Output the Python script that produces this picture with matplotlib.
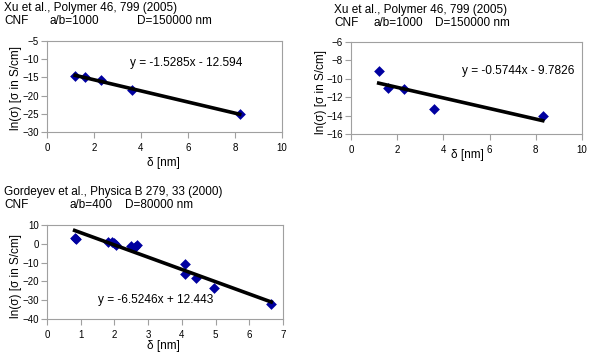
import matplotlib
matplotlib.use("Agg")
import matplotlib.pyplot as plt
import numpy as np

plt.rcParams['font.family'] = ['Liberation Sans', 'DejaVu Sans']

# Panel 1: Xu et al. (ln sigma vs delta)
x1 = [1.2, 1.6, 2.3, 3.6, 8.2]
y1 = [-14.6, -14.9, -15.8, -18.5, -25.0]
fit1 = (-1.5285, -12.594)
eq1 = "y = -1.5285x - 12.594"

# Panel 2: Xu et al. second set
x2 = [1.2, 1.6, 2.3, 3.6, 8.3]
y2 = [-9.2, -11.0, -11.1, -13.3, -14.0]
fit2 = (-0.5744, -9.7826)
eq2 = "y = -0.5744x - 9.7826"

# Panel 3: Gordeyev et al.
x3 = [0.82, 0.87, 1.8, 1.92, 2.0, 2.05, 2.5, 2.6, 2.68, 4.1, 4.1, 4.42, 4.95, 6.65]
y3 = [3.3, 2.8, 0.8, 1.2, 0.2, -0.5, -1.0, -1.8, -0.6, -10.5, -16.2, -18.0, -23.5, -32.0]
fit3 = (-6.5246, 12.443)
eq3 = "y = -6.5246x + 12.443"

titles = [
    ("Xu et al., Polymer 46, 799 (2005)", "CNF", "a/b=1000", "D=150000 nm"),
    ("Xu et al., Polymer 46, 799 (2005)", "CNF", "a/b=1000", "D=150000 nm"),
    ("Gordeyev et al., Physica B 279, 33 (2000)", "CNF", "a/b=400", "D=80000 nm"),
]

W, H = 604, 364
fig = plt.figure(figsize=(W/100, H/100), dpi=100)

def box(l, t, r, b):
    return [l/W, 1-b/H, (r-l)/W, (b-t)/H]

panels = [
    dict(rect=box(47, 41, 282, 132), x=x1, y=y1, fit=fit1, eq=eq1,
         xlim=(0, 10), xt=[0, 2, 4, 6, 8, 10], ylim=(-30, -5), yt=[-30, -25, -20, -15, -10, -5],
         eqpos=(130, 63), tpos=(4, 8, 4, 49, 137), ylab=(16, 88), xlab=(163, 163)),
    dict(rect=box(351, 42, 582, 134), x=x2, y=y2, fit=fit2, eq=eq2,
         xlim=(0, 10), xt=[0, 2, 4, 6, 8, 10], ylim=(-16, -6), yt=[-16, -14, -12, -10, -8, -6],
         eqpos=(462, 71), tpos=(334, 10, 334, 373, 435), ylab=(321, 92), xlab=(467, 155)),
    dict(rect=box(47, 225, 283, 319), x=x3, y=y3, fit=fit3, eq=eq3,
         xlim=(0, 7), xt=[0, 1, 2, 3, 4, 5, 6, 7], ylim=(-40, 10), yt=[-40, -30, -20, -10, 0, 10],
         eqpos=(98, 300), tpos=(4, 192, 4, 69, 125), ylab=(16, 276), xlab=(163, 346)),
]

for p, t in zip(panels, titles):
    ax = fig.add_axes(p['rect'])
    ax.scatter(p['x'], p['y'], marker='D', s=30, color='#0000a0', zorder=3, linewidths=0)
    xs = np.array([min(p['x']), max(p['x'])])
    ax.plot(xs, p['fit'][0]*xs + p['fit'][1], color='black', lw=2.6, zorder=4)
    ax.set_xlim(*p['xlim'])
    ax.set_ylim(*p['ylim'])
    ax.set_xticks(p['xt'])
    ax.set_yticks(p['yt'])
    for s in ax.spines.values():
        s.set_color('#a0a0a0')
        s.set_linewidth(0.8)
    ax.tick_params(direction='out', length=4, width=0.8, color='#a0a0a0', labelsize=7, pad=2)
    ax.tick_params(axis='x', pad=4)
    tx, ty, cx, ax2x, dx = p['tpos']
    fig.text(tx/W, 1-ty/H, t[0], fontsize=8.5, va='center', ha='left')
    fig.text(cx/W, 1-(ty+13)/H, t[1], fontsize=8.5, va='center', ha='left')
    fig.text(ax2x/W, 1-(ty+13)/H, t[2], fontsize=8.5, va='center', ha='left')
    fig.text(dx/W, 1-(ty+13)/H, t[3], fontsize=8.5, va='center', ha='left')
    fig.text(p['eqpos'][0]/W, 1-p['eqpos'][1]/H, p['eq'], fontsize=8.6, va='center', ha='left')
    fig.text(p['ylab'][0]/W, 1-p['ylab'][1]/H, 'ln(σ) [σ in S/cm]', fontsize=8.5,
             rotation=90, va='center', ha='center')
    fig.text(p['xlab'][0]/W, 1-p['xlab'][1]/H, 'δ [nm]', fontsize=8.5,
             va='center', ha='center')

fig.savefig('out.png', dpi=100)
